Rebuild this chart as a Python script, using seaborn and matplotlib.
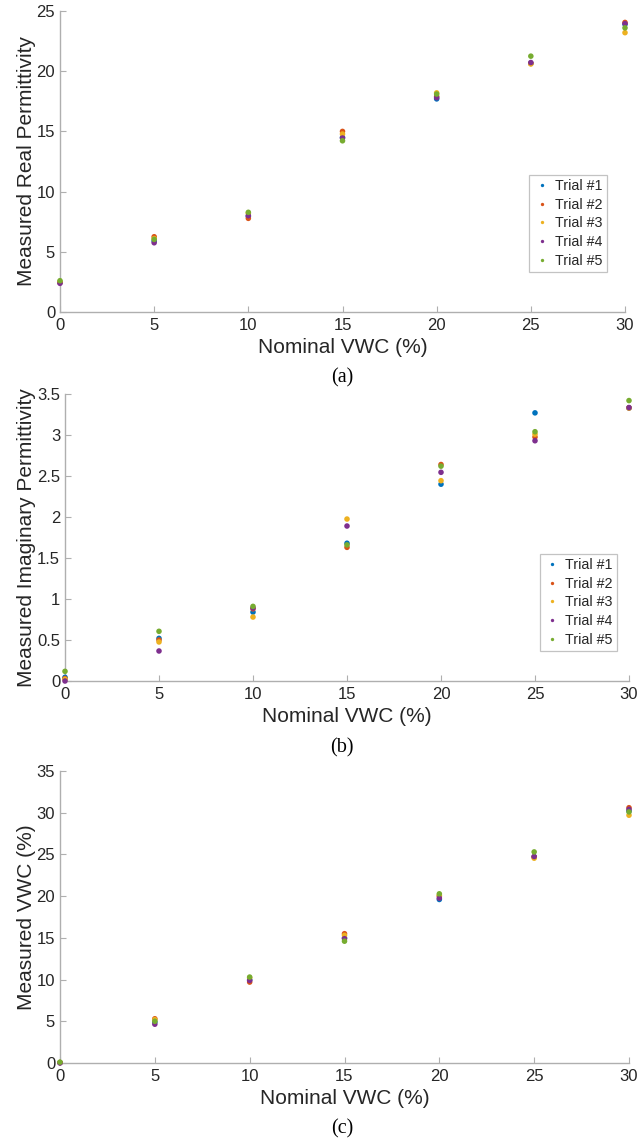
import numpy as np
import pandas as pd
import matplotlib
matplotlib.use("Agg")
import matplotlib.pyplot as plt
import seaborn as sns
from matplotlib.ticker import FuncFormatter

# ---------------- data ----------------
nominal_vwc = [0, 5, 10, 15, 20, 25, 30]
trials = ["Trial #1", "Trial #2", "Trial #3", "Trial #4", "Trial #5"]

real_t1 = [2.45, 5.90, 7.95, 14.50, 17.70, 20.65, 23.90]
real_t2 = [2.45, 6.25, 7.78, 15.00, 17.90, 20.65, 24.05]
real_t3 = [2.50, 6.10, 8.20, 14.78, 18.20, 20.60, 23.20]
real_t4 = [2.38, 5.75, 8.00, 14.45, 17.80, 20.72, 23.95]
real_t5 = [2.60, 6.03, 8.28, 14.22, 18.10, 21.25, 23.60]

imag_t1 = [0.045, 0.52, 0.84, 1.68, 2.40, 3.27, 3.33]
imag_t2 = [0.030, 0.50, 0.88, 1.63, 2.64, 2.975, 3.33]
imag_t3 = [0.020, 0.476, 0.78, 1.975, 2.443, 3.01, 3.33]
imag_t4 = [0.000, 0.366, 0.89, 1.89, 2.545, 2.93, 3.335]
imag_t5 = [0.118, 0.606, 0.91, 1.66, 2.62, 3.04, 3.42]

vwc_t1 = [0.05, 4.90, 9.95, 15.00, 19.60, 24.70, 30.20]
vwc_t2 = [0.05, 5.30, 9.70, 15.50, 20.00, 24.70, 30.60]
vwc_t3 = [0.05, 5.20, 10.20, 15.30, 20.10, 24.55, 29.70]
vwc_t4 = [0.00, 4.65, 9.90, 14.90, 19.76, 24.75, 30.40]
vwc_t5 = [0.10, 5.00, 10.30, 14.60, 20.28, 25.30, 30.10]

palette = ["#0072BD", "#D95319", "#EDB120", "#7E2F8E", "#77AC30"]


def long_df(series):
    rows = []
    for name, vals in zip(trials, series):
        for x, y in zip(nominal_vwc, vals):
            rows.append({"x": x, "y": y, "Trial": name})
    return pd.DataFrame(rows)


df_real = long_df([real_t1, real_t2, real_t3, real_t4, real_t5])
df_imag = long_df([imag_t1, imag_t2, imag_t3, imag_t4, imag_t5])
df_vwc = long_df([vwc_t1, vwc_t2, vwc_t3, vwc_t4, vwc_t5])

# ---------------- style ----------------
sns.set_theme(style="white")
plt.rcParams["font.family"] = ["Liberation Sans", "DejaVu Sans"]
spine_col = "#AFAFAF"
text_col = "#262626"

fig = plt.figure(figsize=(6.37, 11.41), dpi=100)
W, H = 637, 1141


def add_axes(l, r, t, b):
    return fig.add_axes([l / W, 1 - b / H, (r - l) / W, (b - t) / H])


axA = add_axes(60, 625, 11, 312)
axB = add_axes(65, 629, 394, 681)
axC = add_axes(60, 629, 771, 1063)

fmt = FuncFormatter(lambda v, p: f"{v:g}")


def style_axis(ax, ylim, yticks, ylabel):
    ax.set_xlim(0, 30)
    ax.set_ylim(*ylim)
    ax.set_xticks([0, 5, 10, 15, 20, 25, 30])
    ax.set_yticks(yticks)
    ax.xaxis.set_major_formatter(fmt)
    ax.yaxis.set_major_formatter(fmt)
    for s in ["top", "right"]:
        ax.spines[s].set_visible(False)
    for s in ["left", "bottom"]:
        ax.spines[s].set_color(spine_col)
        ax.spines[s].set_linewidth(1.0)
    ax.tick_params(direction="in", length=4, width=0.8, color=spine_col,
                   labelsize=12, labelcolor=text_col,
                   left=True, bottom=True)
    ax.tick_params(axis="x", pad=4.5)
    ax.tick_params(axis="y", pad=3.5)
    ax.set_xlabel("Nominal VWC (%)", fontsize=15, color=text_col, labelpad=3.5)
    ax.set_ylabel(ylabel, fontsize=15, color=text_col)


def scatter(ax, df, legend):
    sns.scatterplot(data=df, x="x", y="y", hue="Trial", palette=palette,
                    s=16, linewidth=0, ax=ax, clip_on=False, legend=legend,
                    zorder=3)


scatter(axA, df_real, True)
scatter(axB, df_imag, True)
scatter(axC, df_vwc, False)

style_axis(axA, (0, 25), [0, 5, 10, 15, 20, 25], "Measured Real Permittivity")
style_axis(axB, (0, 3.5), [0, 0.5, 1, 1.5, 2, 2.5, 3, 3.5], "Measured Imaginary Permittivity")
style_axis(axC, (0, 35), [0, 5, 10, 15, 20, 25, 30, 35], "Measured VWC (%)")

for ax in (axA, axB, axC):
    pos = ax.get_position()
    ax.yaxis.set_label_coords((36 - pos.x0 * W) / (pos.width * W), 0.5)


def make_legend(ax, anchor):
    handles, labels = ax.get_legend_handles_labels()
    leg = ax.legend(handles, labels, loc="upper right", bbox_to_anchor=anchor,
                    borderaxespad=0, frameon=True, fancybox=False,
                    fontsize=10.3, markerscale=0.6, handletextpad=0.3,
                    handlelength=1.2, labelspacing=0.32, borderpad=0.3)
    leg.get_frame().set_edgecolor("#B5B5B5")
    leg.get_frame().set_linewidth(0.9)
    for t in leg.get_texts():
        t.set_color(text_col)


make_legend(axA, (0.968, 0.455))
make_legend(axB, (0.979, 0.4425))

# sub captions
for label, y in [("(a)", 378), ("(b)", 748), ("(c)", 1129)]:
    fig.text(342 / W, 1 - y / H, label, ha="center", va="center",
             fontsize=14.5, family="Liberation Serif", color="black")

fig.savefig("out.png", dpi=100, facecolor="white")
